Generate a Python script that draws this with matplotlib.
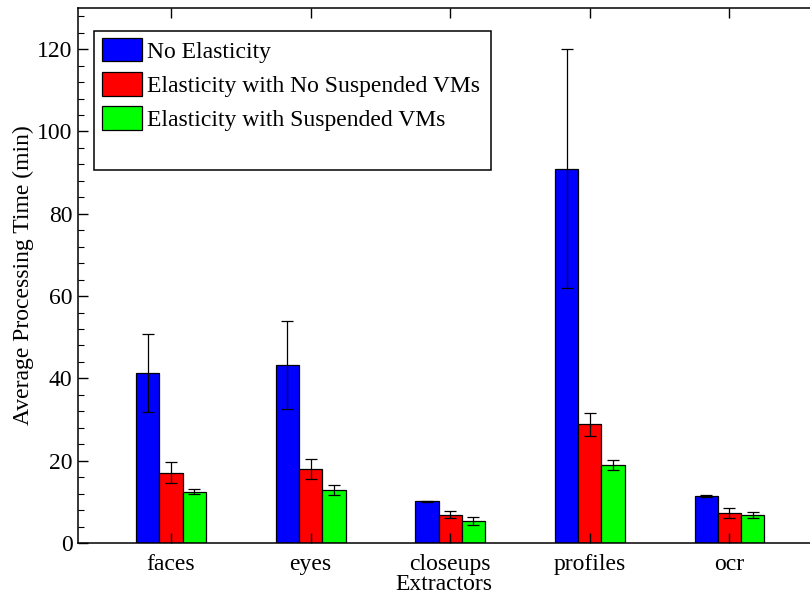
import numpy as np
from matplotlib import pyplot as plt
from matplotlib.patches import Rectangle
from matplotlib.ticker import MultipleLocator

plt.rcParams['font.family'] = ['Liberation Serif', 'DejaVu Serif']
plt.rcParams['font.size'] = 17

# datos
extractors = ['faces', 'eyes', 'closeups', 'profiles', 'ocr']
labels = ['No Elasticity', 'Elasticity with No Suspended VMs', 'Elasticity with Suspended VMs']
no_elast = [41.3, 43.2, 10.1, 91.0, 11.4]
no_elast_err = [9.5, 10.7, 0.2, 29.0, 0.2]
elast_nosusp = [17.1, 18.0, 6.8, 28.8, 7.3]
elast_nosusp_err = [2.5, 2.5, 0.85, 2.9, 1.2]
elast_susp = [12.5, 12.9, 5.4, 19.0, 6.8]
elast_susp_err = [0.7, 1.3, 1.0, 1.2, 0.8]

colores = ['#0000ff', '#ff0000', '#00ff00']
valores = [no_elast, elast_nosusp, elast_susp]
errores = [no_elast_err, elast_nosusp_err, elast_susp_err]

x = np.arange(1, len(extractors) + 1)
w = 1.0 / 6

fig = plt.figure(figsize=(8.1, 5.94), dpi=100)
ax = fig.add_axes([0.0963, 0.0859, 0.9037, 0.9006])

handles = []
for i in range(3):
    pos = x + (i - 1) * w
    b = ax.bar(pos, valores[i], w, color=colores[i], edgecolor='k', linewidth=0.9, label=labels[i])
    ax.errorbar(pos, valores[i], yerr=errores[i], fmt='none', ecolor='k', elinewidth=0.9,
                capsize=4.5, capthick=0.9)
    handles.append(b)

ax.set_xlim(0.334, 5.577)
ax.set_ylim(0, 130)
ax.set_xticks(x)
ax.set_xticklabels(extractors)
ax.yaxis.set_major_locator(MultipleLocator(20))
ax.yaxis.set_minor_locator(MultipleLocator(4))
ax.tick_params(axis='both', which='both', direction='in', top=True, right=False)
ax.tick_params(axis='both', which='major', length=7, width=1, pad=4)
ax.tick_params(axis='x', which='major', pad=8)
ax.tick_params(axis='y', which='minor', length=4, width=0.8)
ax.spines['right'].set_visible(False)
for s in ['left', 'bottom', 'top']:
    ax.spines[s].set_linewidth(1.1)

ax.set_xlabel('Extractors', labelpad=-1)
ax.set_ylabel('Average Processing Time (min)', labelpad=2)

# leyenda estilo matlab con caja mas alta
caja = Rectangle((94 / 810, 1 - 170 / 594), 397 / 810, 139 / 594,
                 transform=fig.transFigure, facecolor='white', edgecolor='k',
                 linewidth=1.1, zorder=4)
ax.add_patch(caja)
leg = ax.legend(handles=handles, loc='upper left', bbox_to_anchor=(102 / 810, 1 - 38 / 594),
                bbox_transform=fig.transFigure, frameon=False, borderpad=0, borderaxespad=0,
                handlelength=1.7, handleheight=1.15, handletextpad=0.2, labelspacing=0.4)
leg.set_zorder(5)

plt.savefig('out.png', dpi=100)
